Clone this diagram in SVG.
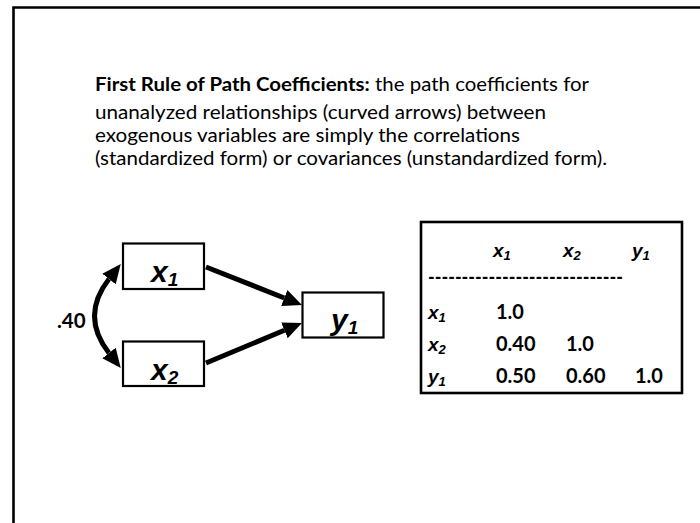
<svg xmlns="http://www.w3.org/2000/svg" width="700" height="523" viewBox="0 0 700 523">
<style>
  .t { font-family: Lato, "Liberation Sans", sans-serif; fill: #000; }
  .para { font-size: 18.5px; }
  .b { font-weight: bold; }
  .var { font-family: "Liberation Sans", Arial, sans-serif; font-weight: bold; font-style: italic; fill: #000; }
  .box { fill: #fff; stroke: #000; stroke-width: 2.2; }
  .conn { fill: none; stroke: #000; stroke-width: 5; }
  .cell { font-size: 20px; font-weight: bold; }
</style>
<defs>
  <marker id="ah" markerUnits="userSpaceOnUse" viewBox="0 -10 22 20" markerWidth="22" markerHeight="20" refX="0" refY="0" orient="auto-start-reverse">
    <path d="M0,-8.5 L19,0 L0,8.5 z" fill="#000"/>
  </marker>
</defs>
<rect width="700" height="523" fill="#fff"/>
<path d="M13.5,523 V7.5 H700" fill="none" stroke="#000" stroke-width="2.6"/>

<g id="title">
  <text class="t para" x="95" y="91" textLength="494" lengthAdjust="spacingAndGlyphs"><tspan class="b">First Rule of Path Coefficients:</tspan> the path coefficients for</text>
  <text class="t para" x="95" y="119" textLength="451" lengthAdjust="spacingAndGlyphs">unanalyzed relationships (curved arrows) between</text>
  <text class="t para" x="95" y="142" textLength="425" lengthAdjust="spacingAndGlyphs">exogenous variables are simply the correlations</text>
  <text class="t para" x="95" y="165" textLength="512" lengthAdjust="spacingAndGlyphs">(standardized form) or covariances (unstandardized form).</text>
</g>

<g id="connectors">
  <path class="conn" d="M206,267 L284.3,298" marker-end="url(#ah)"/>
  <path class="conn" d="M206,363 L284.4,330.3" marker-end="url(#ah)"/>
  <path class="conn" d="M109,279 Q80,316 109,353" marker-start="url(#ah)" marker-end="url(#ah)"/>
  <text class="t b" x="57" y="328" font-size="20.5">.40</text>
</g>

<g id="node-x1">
  <rect class="box" x="123" y="243.5" width="81" height="45.5"/>
  <text class="var" x="151" y="282" font-size="30">x<tspan font-size="19" dy="4">1</tspan></text>
</g>
<g id="node-x2">
  <rect class="box" x="123" y="341.5" width="81" height="44.5"/>
  <text class="var" x="151" y="380" font-size="30">x<tspan font-size="19" dy="4">2</tspan></text>
</g>
<g id="node-y1">
  <rect class="box" x="302.5" y="292.5" width="81" height="45"/>
  <text class="var" x="331" y="330" font-size="30">y<tspan font-size="19" dy="4">1</tspan></text>
</g>

<g id="table">
  <rect x="421" y="222" width="261" height="171" fill="#fff" stroke="#000" stroke-width="2.6"/>
  <text class="var" x="493" y="257" font-size="19">x<tspan font-size="13" dy="3">1</tspan></text>
  <text class="var" x="563" y="257" font-size="19">x<tspan font-size="13" dy="3">2</tspan></text>
  <text class="var" x="632" y="257" font-size="19">y<tspan font-size="13" dy="3">1</tspan></text>
  <text class="t cell" x="428" y="284" textLength="195" lengthAdjust="spacingAndGlyphs">-----------------------------</text>
  <text class="var" x="428" y="319" font-size="19">x<tspan font-size="13" dy="3">1</tspan></text>
  <text class="var" x="428" y="351" font-size="19">x<tspan font-size="13" dy="3">2</tspan></text>
  <text class="var" x="428" y="383" font-size="19">y<tspan font-size="13" dy="3">1</tspan></text>
  <text class="t cell" x="496" y="319">1.0</text>
  <text class="t cell" x="496" y="351">0.40</text>
  <text class="t cell" x="566" y="351">1.0</text>
  <text class="t cell" x="496" y="383">0.50</text>
  <text class="t cell" x="566" y="383">0.60</text>
  <text class="t cell" x="635" y="383">1.0</text>
</g>
</svg>
